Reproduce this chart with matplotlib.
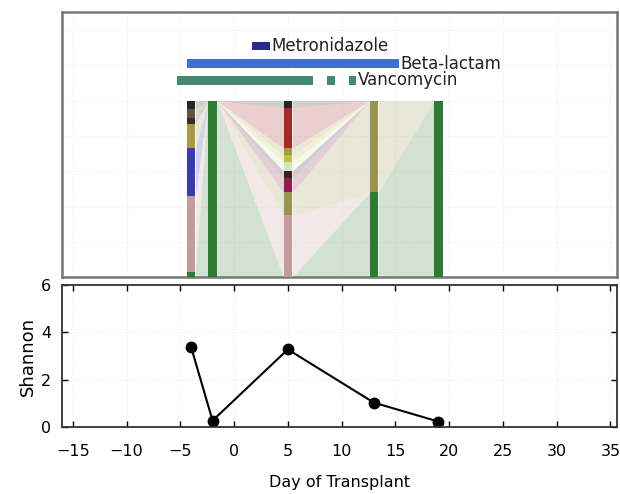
import matplotlib
matplotlib.use("Agg")
import matplotlib.pyplot as plt

# sample days and alpha diversity
days = [-4, -2, 5, 13, 19]
shannon = [3.39, 0.27, 3.28, 1.03, 0.23]

# taxa, stacked from the bottom up (fractions per sample)
taxa = ["green", "pink", "blue", "khaki", "maroon", "dark_c", "palegreen",
        "yellowgreen", "olive", "dark_b", "brown", "red", "dark_a"]
green = [0.03, 1.0, 0.0, 0.48, 1.0]
pink = [0.43, 0.0, 0.35, 0.0, 0.0]
blue = [0.27, 0.0, 0.0, 0.0, 0.0]
khaki = [0.0, 0.0, 0.13, 0.52, 0.0]
maroon = [0.0, 0.0, 0.08, 0.0, 0.0]
dark_c = [0.0, 0.0, 0.04, 0.0, 0.0]
palegreen = [0.0, 0.0, 0.05, 0.0, 0.0]
yellowgreen = [0.0, 0.0, 0.04, 0.0, 0.0]
olive = [0.14, 0.0, 0.04, 0.0, 0.0]
dark_b = [0.03, 0.0, 0.0, 0.0, 0.0]
brown = [0.05, 0.0, 0.0, 0.0, 0.0]
red = [0.0, 0.0, 0.23, 0.0, 0.0]
dark_a = [0.05, 0.0, 0.04, 0.0, 0.0]
fractions = [green, pink, blue, khaki, maroon, dark_c, palegreen,
             yellowgreen, olive, dark_b, brown, red, dark_a]

taxa_colors = {
    "green": "#2f7a34", "pink": "#c49a9a", "blue": "#3a3aa8",
    "khaki": "#9a9450", "maroon": "#8a2050", "dark_c": "#3a2020",
    "palegreen": "#d3e6bd", "yellowgreen": "#b8c83a", "olive": "#a89a40",
    "dark_b": "#332a2a", "brown": "#6b4f3a", "red": "#a82828",
    "dark_a": "#2b2424",
}

# antibiotic courses as (first day, last day) runs
antibiotics = ["Vancomycin", "Beta-lactam", "Metronidazole"]
vanco_runs = [(-5, 7), (9, 9), (11, 11)]
beta_runs = [(-4, 15)]
metro_runs = [(2, 3)]
abx_runs = [vanco_runs, beta_runs, metro_runs]
abx_colors = ["#448870", "#3f6fd0", "#2b2b8c"]
abx_y = [1.115, 1.21, 1.31]

W = 0.8
H = 0.35  # half width of one antibiotic day

fig = plt.figure(figsize=(6.2, 4.94), dpi=100)
ax1 = fig.add_axes([0.1, 0.439, 0.895, 0.536])
ax2 = fig.add_axes([0.1, 0.1356, 0.895, 0.2874], sharex=ax1)

# stacked composition bars + translucent links between samples
bottoms = [0.0] * len(days)
for name, frac in zip(taxa, fractions):
    c = taxa_colors[name]
    tops = [b + f for b, f in zip(bottoms, frac)]
    for k in range(len(days) - 1):
        if frac[k] == 0 and frac[k + 1] == 0:
            continue
        ax1.fill_between([days[k] + W / 2, days[k + 1] - W / 2],
                         [bottoms[k], bottoms[k + 1]], [tops[k], tops[k + 1]],
                         color=c, alpha=0.22, linewidth=0)
    ax1.bar(days, frac, bottom=bottoms, width=W, color=c, linewidth=0, zorder=3)
    bottoms = tops

# antibiotic exposure
for name, runs, c, y in zip(antibiotics, abx_runs, abx_colors, abx_y):
    spans = [(s - H, e - s + 2 * H) for s, e in runs]
    ax1.broken_barh(spans, (y - 0.024, 0.048), facecolors=c)
    end = runs[-1][1] + H
    ax1.text(end + 0.15, y, name, fontsize=12, va="center", ha="left",
             color="#222222")

ax1.set_ylim(0, 1.5)
ax1.set_xlim(-16, 35.6)
ax1.tick_params(bottom=False, left=False, labelbottom=False, labelleft=False)
for s in ax1.spines.values():
    s.set_color("#777777")
    s.set_linewidth(1.8)
ax1.grid(True, color="#f0f0f0", linestyle=":", linewidth=0.8)
ax1.set_axisbelow(True)

# shannon diversity
ax2.plot(days, shannon, color="black", linewidth=1.5, marker="o",
         markersize=7.5, markerfacecolor="black")
ax2.set_ylim(0, 6)
ax2.set_yticks([0, 2, 4, 6])
ax2.set_xticks(range(-15, 36, 5))
ax2.tick_params(direction="in", top=True, right=True, length=4,
                labelsize=11.5, width=1.0)
ax2.tick_params(axis="x", pad=12)
ax2.tick_params(axis="y", pad=8)
for s in ax2.spines.values():
    s.set_color("#333333")
    s.set_linewidth(1.3)
ax2.grid(True, color="#eeeeee", linestyle=":", linewidth=0.8)
ax2.set_xlabel("Day of Transplant", fontsize=11.5, labelpad=12)
ax2.set_ylabel("Shannon", fontsize=13, labelpad=3)

fig.savefig("out.png", dpi=100)
